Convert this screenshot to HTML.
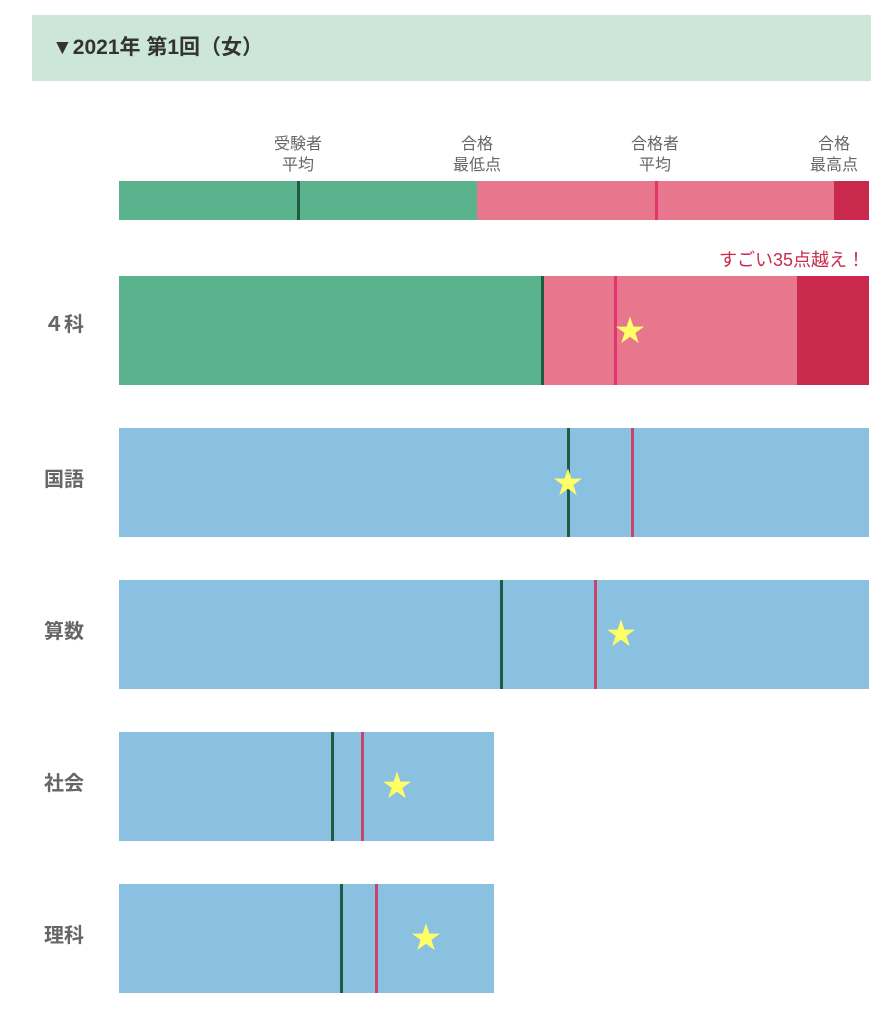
<!DOCTYPE html>
<html><head><meta charset="utf-8"><style>
body{margin:0;width:889px;height:1024px;background:#fff;font-family:"Liberation Sans","Noto Sans CJK JP",sans-serif;position:relative;overflow:hidden}
div{position:absolute}
.h{left:32px;top:15px;width:839px;height:66px;background:#cce6da}
.ht{left:52px;top:32px;font-size:21px;font-weight:bold;color:#333;line-height:32px}
.lg{font-size:16px;color:#666;text-align:center;line-height:21px;width:80px}
.lbl{left:44px;font-size:20px;font-weight:bold;color:#666;line-height:24px}
.v{width:3px}
.star{color:#ffff66;font-size:30px;line-height:30px;width:30px;text-align:center}
</style></head><body>
<div class="h"></div>
<div class="ht">▼2021年 第1回（女）</div>
<div class="lg" style="left:258px;top:134px">受験者<br>平均</div>
<div class="lg" style="left:437px;top:134px">合格<br>最低点</div>
<div class="lg" style="left:615px;top:134px">合格者<br>平均</div>
<div class="lg" style="left:794px;top:134px">合格<br>最高点</div>
<div style="left:119px;top:181px;width:358px;height:39px;background:#5bb38d"></div>
<div style="left:477px;top:181px;width:357px;height:39px;background:#e8768d"></div>
<div style="left:834px;top:181px;width:35px;height:39px;background:#c9294d"></div>
<div class="v" style="left:297px;top:181px;height:39px;background:#1f5c45"></div>
<div class="v" style="left:655px;top:181px;height:39px;background:#e0366b"></div>

<div style="left:680px;top:248px;width:185px;text-align:right;font-size:18px;color:#c9294d;line-height:24px">すごい35点越え！</div>
<div class="lbl" style="top:313px">４科</div>
<div style="left:119px;top:276px;width:424px;height:109px;background:#5bb38d"></div>
<div style="left:543px;top:276px;width:254px;height:109px;background:#e8768d"></div>
<div style="left:797px;top:276px;width:72px;height:109px;background:#c9294d"></div>
<div class="v" style="left:541px;top:276px;height:109px;background:#1f5c45"></div>
<div class="v" style="left:614px;top:276px;height:109px;background:#e0366b"></div>
<div class="star" style="left:615px;top:317px">★</div>

<div class="lbl" style="top:468px">国語</div>
<div style="left:119px;top:428px;width:750px;height:109px;background:#8ac0e0"></div>
<div class="v" style="left:567px;top:428px;height:109px;background:#1f5c45"></div>
<div class="v" style="left:631px;top:428px;height:109px;background:#c8436e"></div>
<div class="star" style="left:553px;top:469px">★</div>

<div class="lbl" style="top:620px">算数</div>
<div style="left:119px;top:580px;width:750px;height:109px;background:#8ac0e0"></div>
<div class="v" style="left:500px;top:580px;height:109px;background:#1f5c45"></div>
<div class="v" style="left:594px;top:580px;height:109px;background:#c8436e"></div>
<div class="star" style="left:606px;top:620px">★</div>

<div class="lbl" style="top:772px">社会</div>
<div style="left:119px;top:732px;width:375px;height:109px;background:#8ac0e0"></div>
<div class="v" style="left:331px;top:732px;height:109px;background:#1f5c45"></div>
<div class="v" style="left:361px;top:732px;height:109px;background:#c8436e"></div>
<div class="star" style="left:382px;top:772px">★</div>

<div class="lbl" style="top:924px">理科</div>
<div style="left:119px;top:884px;width:375px;height:109px;background:#8ac0e0"></div>
<div class="v" style="left:340px;top:884px;height:109px;background:#1f5c45"></div>
<div class="v" style="left:375px;top:884px;height:109px;background:#c8436e"></div>
<div class="star" style="left:411px;top:924px">★</div>
</body></html>
